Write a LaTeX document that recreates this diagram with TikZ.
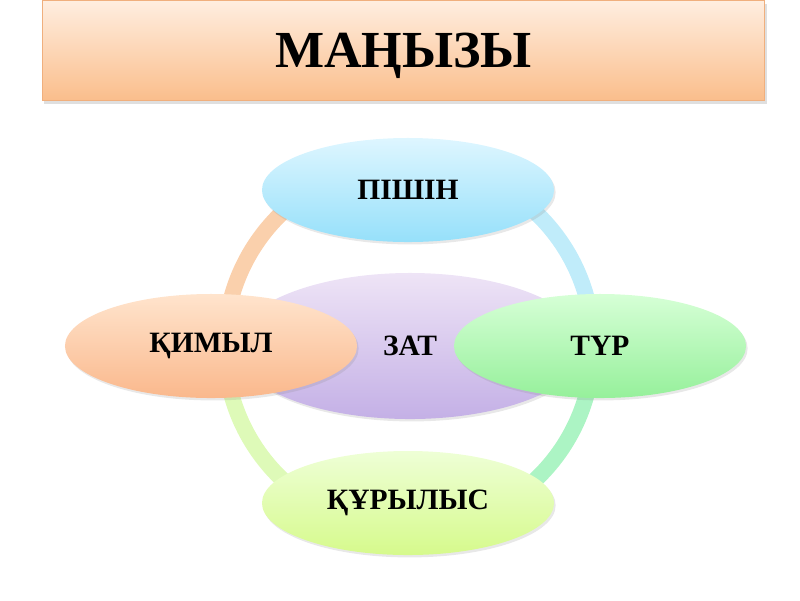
\documentclass[tikz,border=0pt]{standalone}
\usepackage{fontspec}
\setmainfont{Liberation Serif}
\usetikzlibrary{shapes.geometric,shadows,positioning}
\definecolor{titletop}{RGB}{255, 238, 224}
\definecolor{titlebot}{RGB}{250, 190, 140}
\definecolor{titleline}{RGB}{240, 175, 125}
\definecolor{ringorange}{RGB}{250, 208, 172}
\definecolor{ringcyan}{RGB}{192, 236, 250}
\definecolor{ringgreen}{RGB}{172, 244, 196}
\definecolor{ringlime}{RGB}{222, 250, 184}

\begin{document}
\begin{tikzpicture}[
      x=0.025cm, y=-0.025cm,
      oval/.style={ellipse, draw=none, inner sep=0pt, minimum width=7.3cm, minimum height=2.6cm, font=\fontsize{21}{24}\selectfont\bfseries, drop shadow={opacity=0.18, shadow xshift=0.04cm, shadow yshift=-0.06cm}},
      titlebox/.style={rectangle, draw=titleline, thin, minimum width=18.05cm, minimum height=2.5cm, text depth=0pt, top color=titletop, bottom color=titlebot, font=\fontsize{37}{40}\selectfont\bfseries, drop shadow={opacity=0.25, shadow xshift=0.05cm, shadow yshift=-0.1cm}},
      ring/.style={line width=0.4cm}
    ]
      \useasboundingbox (0,0) rectangle (800,600);
      \node[titlebox] (title) at (403.5,50) {МАҢЫЗЫ};

      % ring
      \coordinate (hub) at (409,346);
      \draw[ring, ringcyan] (hub) ++(0:4.6cm) arc[start angle=0, end angle=90, radius=4.6cm];
      \draw[ring, ringorange] (hub) ++(90:4.6cm) arc[start angle=90, end angle=180, radius=4.6cm];
      \draw[ring, ringlime] (hub) ++(180:4.6cm) arc[start angle=180, end angle=270, radius=4.6cm];
      \draw[ring, ringgreen] (hub) ++(270:4.6cm) arc[start angle=270, end angle=360, radius=4.6cm];

      \node[oval, minimum width=8.75cm, minimum height=3.65cm, top color={rgb,255:red,238;green,228;blue,246}, bottom color={rgb,255:red,196;green,176;blue,230}] (zat) at (410,346) {ЗАТ};
      \node[oval, top color={rgb,255:red,222;green,246;blue,255}, bottom color={rgb,255:red,150;green,224;blue,250}] (pishin) at (408,190) {ПІШІН};
      \node[oval, top color={rgb,255:red,255;green,228;blue,205}, bottom color={rgb,255:red,250;green,184;blue,140}] (qimyl) at (211,346) {ҚИМЫЛ};
      \node[oval, top color={rgb,255:red,214;green,255;blue,214}, bottom color={rgb,255:red,150;green,240;blue,155}] (tur) at (600,346) {ТҮР};
      \node[oval, top color={rgb,255:red,238;green,255;blue,214}, bottom color={rgb,255:red,214;green,250;blue,140}] (qurylys) at (408,503) {ҚҰРЫЛЫС};
    \end{tikzpicture}
\end{document}
